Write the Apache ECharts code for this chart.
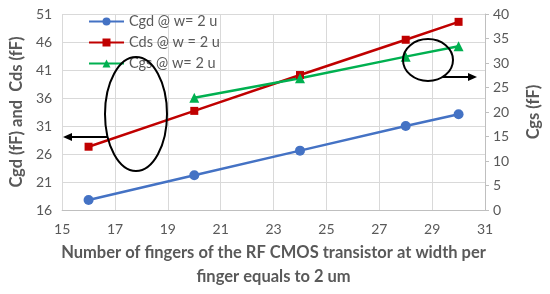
<!DOCTYPE html>
<html>
<head>
<meta charset="utf-8">
<script src="https://cdn.jsdelivr.net/npm/echarts@6/dist/echarts.min.js"></script>
<style>
html,body{margin:0;padding:0;background:#fff;}
#chart{width:550px;height:294px;}
</style>
</head>
<body>
<div id="chart"></div>
<script>
// number of fingers
var fingers = [16, 20, 24, 28, 30];
var fingersCgs = [20, 24, 28, 30];
// capacitances, fF
var cgd = [17.8, 22.2, 26.6, 31.0, 33.1];
var cds = [27.3, 33.7, 40.1, 46.4, 49.6];
var cgs = [22.9, 26.9, 31.3, 33.4];

var seriesNames = ['Cgd @ w= 2 u', 'Cds @ w = 2 u', 'Cgs @ w= 2 u'];

function pairs(xs, ys) {
    var out = [];
    for (var i = 0; i < xs.length; i++) out.push([xs[i], ys[i]]);
    return out;
}

var txt = '#595959';
var font = 'Lato, "Open Sans", sans-serif';
var chart = echarts.init(document.getElementById('chart'));

var option = {
    backgroundColor: '#fff',
    animation: false,
    textStyle: {fontFamily: font},
    grid: {left: 57, right: 60, top: 14, bottom: 81},
    legend: {
        orient: 'vertical',
        left: 83,
        top: 9,
        itemGap: 6,
        itemWidth: 35,
        itemHeight: 10,
        textStyle: {color: txt, fontSize: 14.5, fontFamily: font},
        data: seriesNames
    },
    xAxis: {
        type: 'value',
        min: 15, max: 31, interval: 2,
        name: 'Number of fingers of the RF CMOS transistor at width per\nfinger equals to 2 um',
        nameLocation: 'middle',
        nameGap: 31,
        nameTextStyle: {color: txt, fontSize: 16.5, fontWeight: 'bold', lineHeight: 24, fontFamily: font},
        axisLine: {lineStyle: {color: '#bfbfbf'}},
        axisTick: {show: false},
        axisLabel: {color: txt, fontSize: 14, margin: 12},
        splitLine: {lineStyle: {color: '#d9d9d9'}}
    },
    yAxis: [{
        type: 'value',
        min: 16, max: 51, interval: 5,
        name: 'Cgd (fF) and  Cds (fF)',
        nameLocation: 'middle',
        nameRotate: 90,
        nameGap: 34,
        nameTextStyle: {color: txt, fontSize: 16.5, fontWeight: 'bold', fontFamily: font},
        axisLine: {show: false},
        axisTick: {show: false},
        axisLabel: {color: txt, fontSize: 14, margin: 10},
        splitLine: {lineStyle: {color: '#d9d9d9'}}
    }, {
        type: 'value',
        min: 0, max: 40, interval: 5,
        position: 'right',
        name: 'Cgs (fF)',
        nameLocation: 'middle',
        nameRotate: 90,
        nameGap: 40,
        nameTextStyle: {color: txt, fontSize: 16.5, fontWeight: 'bold', fontFamily: font},
        axisLine: {show: true, lineStyle: {color: '#bfbfbf'}},
        axisTick: {show: true, length: 4, lineStyle: {color: '#bfbfbf'}},
        axisLabel: {color: txt, fontSize: 14, margin: 8},
        splitLine: {show: false}
    }],
    series: [{
        name: seriesNames[0],
        type: 'line',
        yAxisIndex: 0,
        data: pairs(fingers, cgd),
        symbol: 'circle',
        symbolSize: 10,
        lineStyle: {color: '#4472C4', width: 2.5},
        itemStyle: {color: '#4472C4'}
    }, {
        name: seriesNames[1],
        type: 'line',
        yAxisIndex: 0,
        data: pairs(fingers, cds),
        symbol: 'rect',
        symbolSize: 8,
        lineStyle: {color: '#C00000', width: 2.5},
        itemStyle: {color: '#C00000'}
    }, {
        name: seriesNames[2],
        type: 'line',
        yAxisIndex: 1,
        data: pairs(fingersCgs, cgs),
        symbol: 'triangle',
        symbolSize: 10,
        lineStyle: {color: '#00B050', width: 2.5},
        itemStyle: {color: '#00B050'}
    }],
    graphic: [
        {type: 'ellipse', shape: {cx: 136, cy: 114, rx: 31, ry: 57},
         style: {fill: null, stroke: '#000', lineWidth: 2}, z: 100},
        {type: 'line', shape: {x1: 107, y1: 137, x2: 70, y2: 137},
         style: {stroke: '#000', lineWidth: 2}, z: 100},
        {type: 'polygon', shape: {points: [[63, 137], [72, 133], [72, 141]]},
         style: {fill: '#000'}, z: 100},
        {type: 'ellipse', shape: {cx: 428, cy: 60, rx: 25, ry: 21},
         style: {fill: null, stroke: '#000', lineWidth: 2}, z: 100},
        {type: 'line', shape: {x1: 443, y1: 77, x2: 470, y2: 77},
         style: {stroke: '#000', lineWidth: 2}, z: 100},
        {type: 'polygon', shape: {points: [[477, 77], [468, 73], [468, 81]]},
         style: {fill: '#000'}, z: 100}
    ]
};
chart.setOption(option);
</script>
</body>
</html>
